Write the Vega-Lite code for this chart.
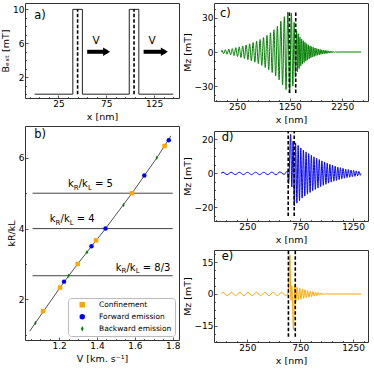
{
"$schema": "https://vega.github.io/schema/vega-lite/v6.json",
"padding": {"left": 0, "top": 2, "right": 2, "bottom": 2},
"config": {
  "font": "DejaVu Sans",
  "view": {"stroke": "#333", "strokeWidth": 1},
  "axis": {"domain": false, "grid": false, "ticks": true, "tickSize": -3, "tickColor": "#333", "tickWidth": 0.8, "labelFontSize": 9, "labelColor": "black", "labelPadding": 4, "titleFontSize": 9.5, "titleFontWeight": "normal", "titleColor": "black", "titlePadding": 2, "labelFlush": false, "labelOverlap": false},
  "text": {"color": "black"}
},
"datasets": {
  "bext": [{"x":0,"y":0},{"x":40,"y":10},{"x":50,"y":0},{"x":99,"y":10},{"x":109,"y":0},{"x":145,"y":0}],
  "dashA": [{"x":45,"y":0,"y2":10},{"x":104,"y":0,"y2":10}],
  "shaft": [{"x":55,"x2":76,"y":5},{"x":114,"x2":136.5,"y":5}],
  "head": [{"x":75.3,"y":5},{"x":135.7,"y":5}],
  "vlab": [{"x":64.4,"y":6.25},{"x":123,"y":6.25}],
  "klines": [{"x":1.06,"x2":1.8,"y":5},{"x":1.06,"x2":1.8,"y":4},{"x":1.06,"x2":1.8,"y":2.6667}],
  "fit": [{"x":1.045,"y":1.1},{"x":1.075,"y":1.333},{"x":1.205,"y":2.333},{"x":1.298,"y":3.0},{"x":1.445,"y":4.0},{"x":1.585,"y":5.0},{"x":1.716,"y":6.0},{"x":1.79,"y":6.62}],
  "pts": [
    {"x":1.075,"y":1.333,"type":"Backward emission"},
    {"x":1.115,"y":1.667,"type":"Confinement"},
    {"x":1.205,"y":2.333,"type":"Confinement"},
    {"x":1.226,"y":2.5,"type":"Forward emission"},
    {"x":1.25,"y":2.667,"type":"Backward emission"},
    {"x":1.298,"y":3.0,"type":"Confinement"},
    {"x":1.347,"y":3.333,"type":"Backward emission"},
    {"x":1.371,"y":3.5,"type":"Forward emission"},
    {"x":1.395,"y":3.667,"type":"Confinement"},
    {"x":1.445,"y":4.0,"type":"Forward emission"},
    {"x":1.54,"y":4.667,"type":"Backward emission"},
    {"x":1.585,"y":5.0,"type":"Confinement"},
    {"x":1.65,"y":5.5,"type":"Forward emission"},
    {"x":1.716,"y":6.0,"type":"Backward emission"},
    {"x":1.757,"y":6.333,"type":"Confinement"},
    {"x":1.779,"y":6.5,"type":"Forward emission"}
  ],
  "klab": [{"x":1.247,"y":5.17,"t":"= 5"},{"x":1.151,"y":4.18,"t":"= 4"},{"x":1.499,"y":2.81,"t":"= 8/3"}],
  "c": [
    {"x":-50,"y":0},{"x":-40,"y":1.5},{"x":-7,"y":-1.5},{"x":26,"y":2},{"x":59,"y":-2},{"x":92,"y":2.5},{"x":125,"y":-2.5},{"x":158,"y":3},{"x":191,"y":-3.2},{"x":224,"y":3.8},{"x":257,"y":-4},{"x":290,"y":4.5},{"x":323,"y":-4.8},{"x":356,"y":5.3},{"x":389,"y":-5.7},{"x":422,"y":6.2},{"x":455,"y":-6.7},{"x":488,"y":7.2},{"x":521,"y":-7.7},{"x":554,"y":8.3},{"x":587,"y":-8.9},{"x":620,"y":9.5},{"x":653,"y":-10.2},{"x":686,"y":11},{"x":719,"y":-11.8},{"x":752,"y":12.7},{"x":785,"y":-13.6},{"x":818,"y":14.5},{"x":851,"y":-15.6},{"x":884,"y":16.8},{"x":917,"y":-18},{"x":950,"y":19.5},{"x":983,"y":-21},{"x":1016,"y":22.5},{"x":1049,"y":-24.5},{"x":1082,"y":27},{"x":1115,"y":-29},{"x":1148,"y":31},{"x":1181,"y":-33},{"x":1214,"y":35},{"x":1250,"y":-36},{"x":1282,"y":34},{"x":1310,"y":-30},{"x":1335,"y":26},{"x":1358,"y":-22},{"x":1381,"y":18.5},
    {"x":1397,"y":-17.5},{"x":1413,"y":16},{"x":1429,"y":-14.5},{"x":1445,"y":13},{"x":1461,"y":-12.2},{"x":1477,"y":11.4},{"x":1493,"y":-10.6},{"x":1509,"y":9.9},{"x":1525,"y":-9.2},{"x":1541,"y":8.5},{"x":1557,"y":-7.9},{"x":1573,"y":7.3},{"x":1589,"y":-6.8},{"x":1605,"y":6.3},{"x":1621,"y":-5.9},{"x":1637,"y":5.4},{"x":1653,"y":-5},{"x":1669,"y":4.7},{"x":1685,"y":-4.4},{"x":1701,"y":4.1},{"x":1717,"y":-3.8},{"x":1733,"y":3.5},{"x":1749,"y":-3.2},{"x":1765,"y":3},{"x":1781,"y":-2.8},{"x":1797,"y":2.6},{"x":1813,"y":-2.4},{"x":1829,"y":2.2},{"x":1845,"y":-2},{"x":1861,"y":1.9},{"x":1877,"y":-1.8},{"x":1893,"y":1.6},{"x":1909,"y":-1.5},{"x":1925,"y":1.4},{"x":1941,"y":-1.3},{"x":1957,"y":1.2},{"x":1973,"y":-1.1},{"x":1989,"y":1},{"x":2005,"y":-0.9},{"x":2021,"y":0.8},{"x":2037,"y":-0.7},{"x":2053,"y":0.6},{"x":2069,"y":-0.5},{"x":2085,"y":0.4},{"x":2101,"y":-0.4},{"x":2117,"y":0.3},{"x":2133,"y":-0.2},{"x":2150,"y":0},{"x":2610,"y":0}
  ],
  "dashC": [{"x":1245,"y":-36,"y2":36},{"x":1365,"y":-36,"y2":36}],
  "d": [
    {"x":0,"y":0},{"x":19,"y":0.7},{"x":58,"y":-0.7},{"x":96,"y":0.7},{"x":135,"y":-0.7},{"x":173,"y":0.7},{"x":212,"y":-0.7},{"x":250,"y":0.7},{"x":289,"y":-0.7},{"x":327,"y":0.7},{"x":366,"y":-0.7},{"x":404,"y":0.7},{"x":443,"y":-0.7},{"x":481,"y":0.8},{"x":520,"y":-0.8},{"x":558,"y":0.9},{"x":597,"y":-0.6},{"x":630,"y":1.5},{"x":640,"y":-6},{"x":659,"y":23},{"x":670,"y":-8},{"x":682,"y":19},{"x":694,"y":-19},
    {"x":706,"y":18},{"x":718,"y":-17.5},{"x":730,"y":16.5},{"x":743,"y":-16},{"x":755,"y":15},{"x":768,"y":-14.5},{"x":780,"y":13.8},{"x":793,"y":-13.3},{"x":805,"y":12.7},{"x":818,"y":-12.2},{"x":830,"y":11.7},{"x":843,"y":-11.2},{"x":855,"y":10.7},{"x":868,"y":-10.2},{"x":880,"y":9.8},{"x":893,"y":-9.4},{"x":905,"y":9},{"x":918,"y":-8.6},{"x":930,"y":8.2},{"x":943,"y":-7.8},{"x":955,"y":7.4},{"x":968,"y":-7},{"x":980,"y":6.7},{"x":993,"y":-6.4},{"x":1005,"y":6},{"x":1018,"y":-5.7},{"x":1030,"y":5.4},{"x":1043,"y":-5.1},{"x":1055,"y":4.8},{"x":1068,"y":-4.6},{"x":1080,"y":4.3},{"x":1093,"y":-4.1},{"x":1105,"y":3.8},{"x":1118,"y":-3.6},{"x":1130,"y":3.4},{"x":1143,"y":-3.2},{"x":1155,"y":3},{"x":1168,"y":-2.8},{"x":1180,"y":2.6},{"x":1193,"y":-2.5},{"x":1205,"y":2.3},{"x":1218,"y":-2.2},{"x":1230,"y":2},{"x":1243,"y":-1.9},{"x":1255,"y":1.8},{"x":1268,"y":-1.7},{"x":1280,"y":1.5},{"x":1293,"y":-1.4},{"x":1305,"y":1.2},{"x":1318,"y":-1.1},{"x":1325,"y":0}
  ],
  "dashD": [{"x":636,"y":-25,"y2":25},{"x":693,"y":-25,"y2":25}],
  "e": [
    {"x":0,"y":0},{"x":20,"y":0.8},{"x":59,"y":-0.8},{"x":99,"y":0.8},{"x":138,"y":-0.8},{"x":178,"y":0.8},{"x":217,"y":-0.8},{"x":257,"y":0.8},{"x":296,"y":-0.8},{"x":336,"y":0.8},{"x":375,"y":-0.8},{"x":415,"y":0.8},{"x":454,"y":-0.8},{"x":494,"y":0.8},{"x":533,"y":-0.8},{"x":573,"y":0.8},{"x":612,"y":-0.8},{"x":636,"y":0.5},{"x":652,"y":18.5},{"x":662,"y":-3},{"x":670,"y":4},{"x":686,"y":-17},{"x":697,"y":4},{"x":708,"y":-3.5},
    {"x":720,"y":3.2},{"x":732,"y":-2.8},{"x":745,"y":2.8},{"x":757,"y":-2.5},{"x":770,"y":2.4},{"x":782,"y":-2.1},{"x":795,"y":2},{"x":807,"y":-1.8},{"x":820,"y":1.6},{"x":832,"y":-1.5},{"x":845,"y":1.3},{"x":857,"y":-1.2},{"x":870,"y":1.1},{"x":882,"y":-1},{"x":895,"y":0.9},{"x":907,"y":-0.8},{"x":920,"y":0.7},{"x":932,"y":-0.6},{"x":945,"y":0.5},{"x":957,"y":-0.4},{"x":970,"y":0.3},{"x":982,"y":-0.2},{"x":995,"y":0.1},{"x":1010,"y":0},{"x":1325,"y":0}
  ],
  "dashE": [{"x":638,"y":-20.2,"y2":20.4},{"x":703,"y":-20.2,"y2":20.4}]
},
"hconcat": [
  {
    "spacing": 3,
    "resolve": {"scale": {"x": "independent", "y": "independent", "color": "independent", "shape": "independent"}, "legend": {"color": "independent", "shape": "independent"}},
    "vconcat": [
      {
        "width": 154, "height": 95,
        "encoding": {
          "x": {"field": "x", "type": "quantitative", "scale": {"domain": [-10, 151], "nice": false, "zero": false},
                "axis": {"values": [-5,5,15,25,35,45,55,65,75,85,95,105,115,125,135,145], "format": "d", "title": "x [nm]", "labelExpr": "(datum.value - 25) % 50 == 0 ? datum.label : ''", "tickSize": {"condition": {"test": "(datum.value - 25) % 50 == 0", "value": -3}, "value": -1.5}}},
          "y": {"field": "y", "type": "quantitative", "scale": {"domain": [-0.45, 10.75], "nice": false, "zero": false},
                "axis": {"values": [0,1,2,3,4,5,6,7,8,9,10], "format": "d", "title": "Bₑₓₜ [mT]", "labelExpr": "(datum.value == 2 || datum.value == 6 || datum.value == 10) ? datum.label : ''", "tickSize": {"condition": {"test": "datum.value == 2 || datum.value == 6 || datum.value == 10", "value": -3}, "value": -1.5}}}
        },
        "layer": [
          {"data": {"name": "bext"}, "mark": {"type": "line", "interpolate": "step-after", "color": "#222", "strokeWidth": 1}},
          {"data": {"name": "dashA"}, "mark": {"type": "rule", "color": "black", "strokeWidth": 1.6, "strokeDash": [3.5, 2]}, "encoding": {"y2": {"field": "y2"}}},
          {"data": {"name": "shaft"}, "mark": {"type": "rule", "color": "black", "strokeWidth": 4}, "encoding": {"x2": {"field": "x2"}}},
          {"data": {"name": "head"}, "mark": {"type": "point", "shape": "M-0.9,-1.1L0.9,0L-0.9,1.1Z", "filled": true, "color": "black", "size": 60, "opacity": 1}},
          {"data": {"name": "vlab"}, "mark": {"type": "text", "fontSize": 10.5, "align": "center", "baseline": "middle"}, "encoding": {"text": {"value": "V"}}},
          {"data": {"values": [{"x": -0.4, "y": 9.22}]}, "mark": {"type": "text", "fontSize": 11.5, "align": "left", "baseline": "middle"}, "encoding": {"text": {"value": "a)"}}}
        ]
      },
      {
        "width": 154, "height": 214,
        "resolve": {"legend": {"color": "shared", "shape": "shared"}},
        "encoding": {
          "x": {"field": "x", "type": "quantitative", "scale": {"domain": [1.02, 1.833], "nice": false, "zero": false},
                "axis": {"values": [1.05,1.1,1.15,1.2,1.25,1.3,1.35,1.4,1.45,1.5,1.55,1.6,1.65,1.7,1.75,1.8], "format": ".1f", "title": "V [km. s⁻¹]", "labelExpr": "indexof(['1.20','1.40','1.60','1.80'], format(datum.value, '.2f')) >= 0 ? datum.label : ''", "tickSize": {"condition": {"test": "indexof(['1.20','1.40','1.60','1.80'], format(datum.value, '.2f')) >= 0", "value": -3}, "value": -1.5}}},
          "y": {"field": "y", "type": "quantitative", "scale": {"domain": [0.85, 6.9], "nice": false, "zero": false},
                "axis": {"values": [1,1.5,2,2.5,3,3.5,4,4.5,5,5.5,6,6.5], "format": "d", "title": "kR/kL", "labelExpr": "datum.value % 2 == 0 ? datum.label : ''", "tickSize": {"condition": {"test": "datum.value % 2 == 0", "value": -3}, "value": -1.5}}}
        },
        "layer": [
          {"data": {"name": "klines"}, "mark": {"type": "rule", "color": "#444", "strokeWidth": 1}, "encoding": {"x2": {"field": "x2"}}},
          {"data": {"name": "fit"}, "mark": {"type": "line", "color": "#222", "strokeWidth": 0.8}},
          {"data": {"name": "pts"}, "mark": {"type": "point", "filled": true, "size": 20, "opacity": 1},
           "encoding": {
             "color": {"field": "type", "type": "nominal", "scale": {"domain": ["Confinement", "Forward emission", "Backward emission"], "range": ["#FFA500", "#0000FF", "#008000"]},
                       "legend": {"title": null, "orient": "bottom-right", "offset": 4, "fillColor": "white", "strokeColor": "#bbb", "cornerRadius": 3, "padding": 3, "labelFontSize": 7.5, "symbolSize": 30, "symbolOffset": 7.5, "labelOffset": 13, "rowPadding": 3, "symbolStrokeWidth": 0}},
             "shape": {"field": "type", "type": "nominal", "scale": {"domain": ["Confinement", "Forward emission", "Backward emission"], "range": ["square", "circle", "M0,-1L0.5,0L0,1L-0.5,0Z"]},
                       "legend": {"title": null, "orient": "bottom-right", "offset": 4, "fillColor": "white", "strokeColor": "#bbb", "cornerRadius": 3, "padding": 3, "labelFontSize": 7.5, "symbolSize": 30, "symbolOffset": 7.5, "labelOffset": 13, "rowPadding": 3, "symbolStrokeWidth": 0}}
           }},
          {"data": {"name": "klab"}, "mark": {"type": "text", "align": "left", "baseline": "alphabetic", "fontSize": 10}, "encoding": {"text": {"value": "k"}}},
          {"data": {"name": "klab"}, "mark": {"type": "text", "align": "left", "baseline": "alphabetic", "fontSize": 7, "dx": 5.8, "dy": 2.5}, "encoding": {"text": {"value": "R"}}},
          {"data": {"name": "klab"}, "mark": {"type": "text", "align": "left", "baseline": "alphabetic", "fontSize": 10, "dx": 10.7}, "encoding": {"text": {"value": "/k"}}},
          {"data": {"name": "klab"}, "mark": {"type": "text", "align": "left", "baseline": "alphabetic", "fontSize": 7, "dx": 19.9, "dy": 2.5}, "encoding": {"text": {"value": "L"}}},
          {"data": {"name": "klab"}, "mark": {"type": "text", "align": "left", "baseline": "alphabetic", "fontSize": 10, "dx": 27}, "encoding": {"text": {"field": "t"}}},
          {"data": {"values": [{"x": 1.069, "y": 6.65}]}, "mark": {"type": "text", "fontSize": 11.5, "align": "left", "baseline": "middle"}, "encoding": {"text": {"value": "b)"}}}
        ]
      }
    ]
  },
  {
    "spacing": 4,
    "resolve": {"scale": {"x": "independent", "y": "independent"}},
    "vconcat": [
      {
        "width": 154, "height": 98,
        "encoding": {
          "x": {"field": "x", "type": "quantitative", "scale": {"domain": [-190, 2740], "nice": false, "zero": false},
                "axis": {"values": [-150,50,250,450,650,850,1050,1250,1450,1650,1850,2050,2250,2450,2650], "format": "d", "title": "x [nm]", "labelExpr": "(datum.value - 250) % 1000 == 0 ? datum.label : ''", "tickSize": {"condition": {"test": "(datum.value - 250) % 1000 == 0", "value": -3}, "value": -1.5}}},
          "y": {"field": "y", "type": "quantitative", "scale": {"domain": [-43, 43], "nice": false, "zero": false},
                "axis": {"values": [-37.5,-30,-22.5,-15,-7.5,0,7.5,15,22.5,30,37.5], "format": "d", "title": "Mz [mT]", "labelExpr": "datum.value % 30 == 0 ? datum.label : ''", "tickSize": {"condition": {"test": "datum.value % 30 == 0", "value": -3}, "value": -1.5}}}
        },
        "layer": [
          {"data": {"name": "c"}, "mark": {"type": "line", "color": "#008000", "strokeWidth": 1, "interpolate": "monotone"}},
          {"data": {"name": "dashC"}, "mark": {"type": "rule", "color": "black", "strokeWidth": 1.6, "strokeDash": [3.5, 2]}, "encoding": {"y2": {"field": "y2"}}},
          {"data": {"values": [{"x": -76, "y": 33.1}]}, "mark": {"type": "text", "fontSize": 11.5, "align": "left", "baseline": "middle"}, "encoding": {"text": {"value": "c)"}}}
        ]
      },
      {
        "width": 154, "height": 90,
        "encoding": {
          "x": {"field": "x", "type": "quantitative", "scale": {"domain": [-66, 1391], "nice": false, "zero": false},
                "axis": {"values": [-50,50,150,250,350,450,550,650,750,850,950,1050,1150,1250,1350], "format": "d", "title": "x [nm]", "labelExpr": "(datum.value - 250) % 500 == 0 ? datum.label : ''", "tickSize": {"condition": {"test": "(datum.value - 250) % 500 == 0", "value": -3}, "value": -1.5}}},
          "y": {"field": "y", "type": "quantitative", "scale": {"domain": [-28, 25], "nice": false, "zero": false},
                "axis": {"values": [-25,-20,-15,-10,-5,0,5,10,15,20], "format": "d", "title": "Mz [mT]", "labelExpr": "datum.value % 20 == 0 ? datum.label : ''", "tickSize": {"condition": {"test": "datum.value % 20 == 0", "value": -3}, "value": -1.5}}}
        },
        "layer": [
          {"data": {"name": "d"}, "mark": {"type": "line", "color": "#0000FF", "strokeWidth": 1, "interpolate": "monotone"}},
          {"data": {"name": "dashD"}, "mark": {"type": "rule", "color": "black", "strokeWidth": 1.6, "strokeDash": [3.5, 2]}, "encoding": {"y2": {"field": "y2"}}},
          {"data": {"values": [{"x": 7, "y": 21}]}, "mark": {"type": "text", "fontSize": 11.5, "align": "left", "baseline": "middle"}, "encoding": {"text": {"value": "d)"}}}
        ]
      },
      {
        "width": 154, "height": 92,
        "encoding": {
          "x": {"field": "x", "type": "quantitative", "scale": {"domain": [-66, 1391], "nice": false, "zero": false},
                "axis": {"values": [-50,50,150,250,350,450,550,650,750,850,950,1050,1150,1250,1350], "format": "d", "title": "x [nm]", "labelExpr": "(datum.value - 250) % 500 == 0 ? datum.label : ''", "tickSize": {"condition": {"test": "(datum.value - 250) % 500 == 0", "value": -3}, "value": -1.5}}},
          "y": {"field": "y", "type": "quantitative", "scale": {"domain": [-22.7, 20.8], "nice": false, "zero": false},
                "axis": {"values": [-22.5,-18.75,-15,-11.25,-7.5,-3.75,0,3.75,7.5,11.25,15,18.75], "format": "d", "title": "Mz [mT]", "labelExpr": "datum.value % 15 == 0 ? datum.label : ''", "tickSize": {"condition": {"test": "datum.value % 15 == 0", "value": -3}, "value": -1.5}}}
        },
        "layer": [
          {"data": {"name": "e"}, "mark": {"type": "line", "color": "#FFA500", "strokeWidth": 1, "interpolate": "monotone"}},
          {"data": {"name": "dashE"}, "mark": {"type": "rule", "color": "black", "strokeWidth": 1.6, "strokeDash": [3.5, 2]}, "encoding": {"y2": {"field": "y2"}}},
          {"data": {"values": [{"x": 7, "y": 17.6}]}, "mark": {"type": "text", "fontSize": 11.5, "align": "left", "baseline": "middle"}, "encoding": {"text": {"value": "e)"}}}
        ]
      }
    ]
  }
],
"spacing": 0,
"resolve": {"scale": {"x": "independent", "y": "independent", "color": "independent", "shape": "independent"}, "legend": {"color": "independent", "shape": "independent"}}
}
